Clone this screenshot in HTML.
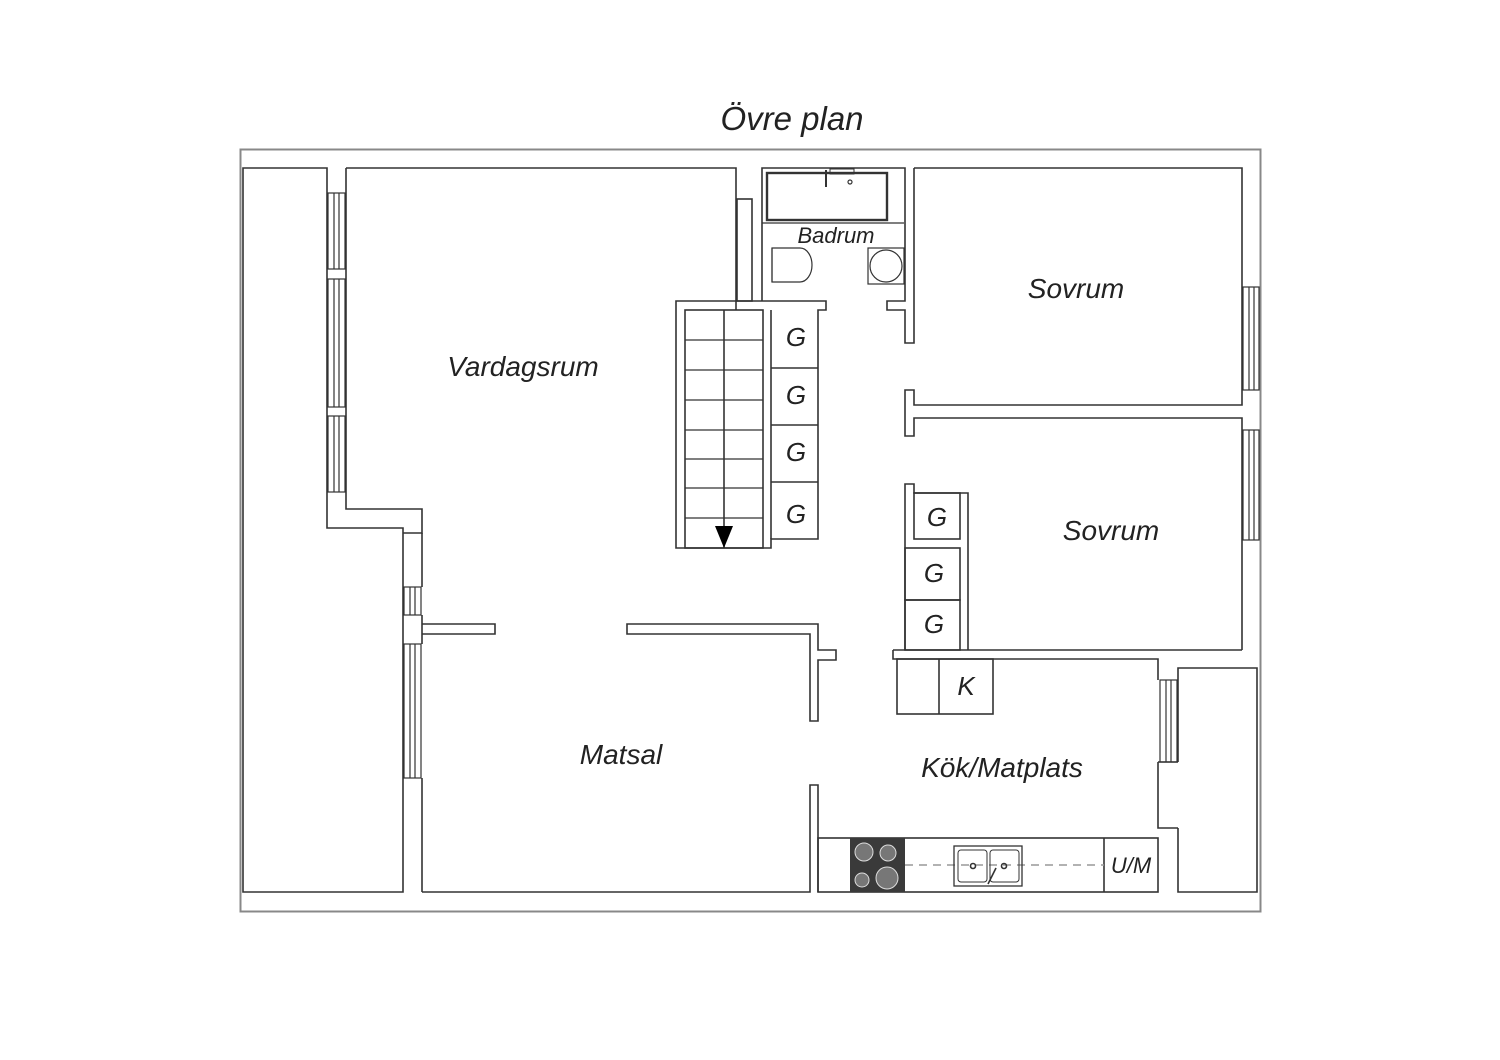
<!DOCTYPE html>
<html><head><meta charset="utf-8"><style>
html,body{margin:0;padding:0;background:#fff;}
svg{display:block}
text{font-family:"Liberation Sans",sans-serif;font-style:italic;fill:#222;text-anchor:middle}
</style></head><body>
<svg width="1500" height="1060" viewBox="0 0 1500 1060" xmlns="http://www.w3.org/2000/svg">
<rect width="1500" height="1060" fill="#fff"/>
<g fill="none" stroke="#333" stroke-width="1.6" stroke-linejoin="miter">
<rect x="240.5" y="149.5" width="1020" height="762" stroke="#888" stroke-width="2"/>
<!-- left strip -->
<polygon points="243,168 327,168 327,528 403,528 403,892 243,892"/>
<!-- living -->
<polyline points="346,168 346,509 422,509 422,533 403,533"/>
<polyline points="346,168 736,168 736,310"/>
<rect x="737" y="199" width="15" height="102"/>
<!-- windows left -->
<g stroke-width="1.2">
<rect x="328" y="193" width="17" height="76"/><line x1="334" y1="193" x2="334" y2="269"/><line x1="339" y1="193" x2="339" y2="269"/>
<rect x="328" y="279" width="17" height="128"/><line x1="334" y1="279" x2="334" y2="407"/><line x1="339" y1="279" x2="339" y2="407"/>
<rect x="328" y="416" width="17" height="76"/><line x1="334" y1="416" x2="334" y2="492"/><line x1="339" y1="416" x2="339" y2="492"/>
<rect x="404" y="587" width="17" height="28"/><line x1="410" y1="587" x2="410" y2="615"/><line x1="415" y1="587" x2="415" y2="615"/>
<rect x="404" y="644" width="17" height="134"/><line x1="410" y1="644" x2="410" y2="778"/><line x1="415" y1="644" x2="415" y2="778"/>
<rect x="1160" y="680" width="17" height="82"/><line x1="1166" y1="680" x2="1166" y2="762"/><line x1="1171" y1="680" x2="1171" y2="762"/>
<rect x="1243" y="287" width="16" height="103"/><line x1="1249" y1="287" x2="1249" y2="390"/><line x1="1254" y1="287" x2="1254" y2="390"/>
<rect x="1243" y="430" width="16" height="110"/><line x1="1249" y1="430" x2="1249" y2="540"/><line x1="1254" y1="430" x2="1254" y2="540"/>
</g>
<!-- dining left wall -->
<line x1="422" y1="533" x2="422" y2="587"/>
<line x1="422" y1="615" x2="422" y2="644"/>
<line x1="422" y1="778" x2="422" y2="892"/>
<polyline points="422,624 495,624 495,634 422,634"/>
<polyline points="422,892 810,892 810,785 818,785 818,892"/>
<polygon points="627,624 818,624 818,650 836,650 836,660 818,660 818,721 810,721 810,634 627,634"/>
<!-- stairs -->
<polygon points="676,301 826,301 826,310 818,310 818,539 771,539 771,548 676,548"/>
<rect x="685" y="310" width="78" height="238"/>
<line x1="724" y1="310" x2="724" y2="548"/>
<g stroke-width="1.3">
<line x1="685" y1="340" x2="763" y2="340"/><line x1="685" y1="370" x2="763" y2="370"/>
<line x1="685" y1="400" x2="763" y2="400"/><line x1="685" y1="430" x2="763" y2="430"/>
<line x1="685" y1="459" x2="763" y2="459"/><line x1="685" y1="488" x2="763" y2="488"/>
<line x1="685" y1="518" x2="763" y2="518"/>
</g>
<line x1="771" y1="310" x2="771" y2="539"/>
<line x1="771" y1="368" x2="818" y2="368"/><line x1="771" y1="425" x2="818" y2="425"/><line x1="771" y1="482" x2="818" y2="482"/>
<!-- bathroom -->
<polyline points="762,301 762,168 905,168 905,301 887,301 887,310 905,310 905,343 914,343 914,168"/>
<rect x="767" y="173" width="120" height="47" stroke-width="2.4"/>
<line x1="762" y1="223" x2="904" y2="223" stroke-width="1.2"/>
<path d="M772,248 H800 A12,17 0 0 1 800,282 H772 Z" stroke-width="1.2"/>
<line x1="772" y1="248" x2="772" y2="282" stroke-width="1.2"/>
<rect x="868" y="248" width="36" height="36" stroke-width="1.2"/>
<circle cx="886" cy="266" r="16" stroke-width="1.2"/>
<line x1="826" y1="170" x2="826" y2="187" stroke-width="2"/>
<rect x="830" y="169" width="24" height="5" stroke-width="1"/>
<circle cx="850" cy="182" r="2" stroke-width="1.2"/>
<!-- sovrum 1 -->
<polyline points="914,168 1242,168 1242,405 914,405 914,390 905,390 905,436 914,436 914,418 1242,418 1242,650"/>
<!-- G right column -->
<polyline points="905,650 905,484 914,484 914,493 968,493 968,650"/>
<rect x="914" y="493" width="46" height="46"/>
<rect x="905" y="548" width="55" height="52"/>
<rect x="905" y="600" width="55" height="50"/>
<!-- kitchen -->
<polyline points="893,650 1242,650"/>
<polyline points="893,650 893,659 1158,659 1158,680"/>
<polyline points="1158,762 1158,828 1178,828"/>
<polyline points="1178,762 1178,668 1257,668 1257,892 1178,892 1178,828"/>
<line x1="1158" y1="762" x2="1178" y2="762"/>
<rect x="897" y="659" width="96" height="55"/>
<line x1="939" y1="659" x2="939" y2="714"/>
<rect x="818" y="838" width="340" height="54"/>
<line x1="1104" y1="838" x2="1104" y2="892"/>
<line x1="905" y1="865" x2="1104" y2="865" stroke="#999" stroke-dasharray="8,6"/>
<rect x="954" y="846" width="68" height="40" stroke-width="1.3"/>
<rect x="958" y="850" width="29" height="32" rx="3" stroke-width="1"/>
<rect x="990" y="850" width="29" height="32" rx="3" stroke-width="1"/>
<circle cx="973" cy="866" r="2.5"/><circle cx="1004" cy="866" r="2.5"/>
<line x1="988" y1="884" x2="996" y2="868"/>
</g>
<rect x="850" y="838" width="55" height="54" fill="#3a3a3a"/>
<g fill="#777" stroke="#ddd" stroke-width="1">
<circle cx="864" cy="852" r="9"/><circle cx="888" cy="853" r="8"/>
<circle cx="862" cy="880" r="7"/><circle cx="887" cy="878" r="11"/>
</g>
<polygon points="715,526 733,526 724,548" fill="#000"/>
<text x="792" y="130" font-size="33">Övre plan</text>
<text x="523" y="376" font-size="28">Vardagsrum</text>
<text x="836" y="243" font-size="22">Badrum</text>
<text x="1076" y="298" font-size="28">Sovrum</text>
<text x="1111" y="540" font-size="28">Sovrum</text>
<text x="621" y="764" font-size="28">Matsal</text>
<text x="1002" y="777" font-size="28">Kök/Matplats</text>
<g font-size="26">
<text x="796" y="346">G</text><text x="796" y="404">G</text><text x="796" y="461">G</text><text x="796" y="523">G</text>
<text x="937" y="526">G</text><text x="934" y="582">G</text><text x="934" y="633">G</text>
<text x="966" y="695">K</text>
</g>
<text x="1131" y="873" font-size="22">U/M</text>
</svg>
</body></html>
